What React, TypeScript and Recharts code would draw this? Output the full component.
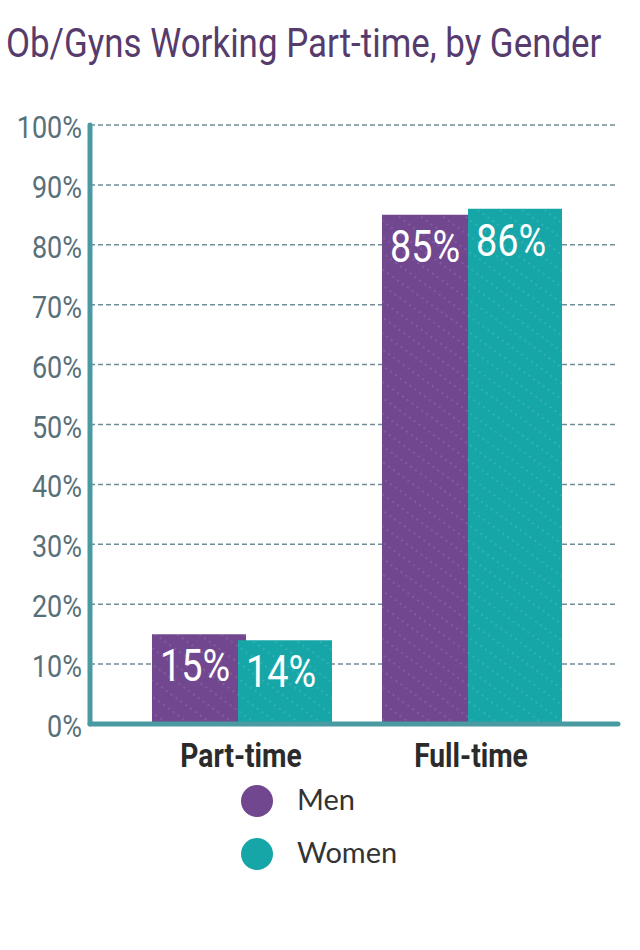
import React from "react"
import { BarChart, Bar, XAxis, YAxis, CartesianGrid, Legend, LabelList } from "recharts"

const categories = ["Part-time", "Full-time"]
const menValues = [15, 85]
const womenValues = [14, 86]
const yTicks = [0, 10, 20, 30, 40, 50, 60, 70, 80, 90, 100]

const COLORS = {
  men: "#71478f",
  women: "#17a6a8",
  title: "#563b6c",
  axis: "#4a9aa2",
  grid: "#6f8d96",
  tick: "#587079",
  category: "#2b2b2b",
}

const series = [
  { key: "men", name: "Men", color: COLORS.men, pattern: "hatchMen" },
  { key: "women", name: "Women", color: COLORS.women, pattern: "hatchWomen" },
]

const data = categories.map((c, i) => ({ name: c, men: menValues[i], women: womenValues[i] }))

const FONT = "Roboto, 'Noto Sans', sans-serif"

// condensed look: Roboto squeezed horizontally
function YTick(props: any) {
  const { x, y, payload } = props
  return (
    <g transform={`translate(${x},${y + 13})`}>
      <text transform="scale(0.87,1)" textAnchor="end" fontFamily={FONT} fontSize={31} fill={COLORS.tick}>
        {`${payload.value}%`}
      </text>
    </g>
  )
}

function XTick(props: any) {
  const { x, y, payload } = props
  return (
    <g transform={`translate(${x - 1},${y + 35})`}>
      <text transform="scale(0.83,1)" textAnchor="middle" fontFamily={FONT} fontWeight={700} fontSize={34} fill={COLORS.category}>
        {payload.value}
      </text>
    </g>
  )
}

function BarValue(props: any) {
  const { x, y, width, value } = props
  return (
    <g transform={`translate(${x + width / 2 - 4},${y + 47})`}>
      <text transform="scale(0.86,1)" textAnchor="middle" fontFamily={FONT} fontSize={44} fill="#ffffff">
        {`${value}%`}
      </text>
    </g>
  )
}

function LegendContent(props: any) {
  const { payload = [] } = props
  return (
    <div>
      {payload.map((entry: any) => {
        const s = series.find((d) => d.name === entry.value)
        return (
          <div key={entry.value} style={{ display: "flex", alignItems: "center", height: 53 }}>
            <span
              style={{ width: 32, height: 32, borderRadius: "50%", background: s ? s.color : entry.color, display: "inline-block" }}
            />
            <span style={{ marginLeft: 24, marginTop: -4, fontFamily: "Lato, sans-serif", fontSize: 29, color: "#333333" }}>
              {entry.value}
            </span>
          </div>
        )
      })}
    </div>
  )
}

export default function App() {
  return (
    <div style={{ position: "absolute", left: 0, top: 0, width: 640, height: 950, background: "#ffffff" }}>
      <svg width={0} height={0} style={{ position: "absolute" }}>
        <defs>
          {series.map((s) => (
            <pattern key={s.key} id={s.pattern} patternUnits="userSpaceOnUse" width={18} height={13} patternTransform="rotate(36)">
              <rect width={18} height={13} fill={s.color} />
              <line x1={0} y1={6} x2={18} y2={6} stroke="rgba(255,255,255,0.22)" strokeWidth={1} strokeDasharray="2 4" />
            </pattern>
          ))}
        </defs>
      </svg>

      <div style={{ position: "absolute", left: 0, top: 0 }}>
        <BarChart
          width={640}
          height={950}
          data={data}
          margin={{ top: 125, right: 22, bottom: 196, left: 0 }}
          barSize={94}
          barGap={-8}
        >
          <CartesianGrid vertical={false} stroke={COLORS.grid} strokeDasharray="5 3" strokeWidth={1.5} />
          <XAxis
            dataKey="name"
            height={30}
            padding={{ left: 37, right: 31 }}
            axisLine={{ stroke: COLORS.axis, strokeWidth: 5, strokeLinecap: "round" }}
            tickLine={false}
            tick={<XTick />}
            interval={0}
          />
          <YAxis
            width={90}
            domain={[0, 100]}
            ticks={yTicks}
            interval={0}
            axisLine={{ stroke: COLORS.axis, strokeWidth: 5, strokeLinecap: "round" }}
            tickLine={false}
            tick={<YTick />}
          />
          <Legend
            layout="vertical"
            align="center"
            verticalAlign="middle"
            wrapperStyle={{ top: 774, left: 241, width: 200 }}
            content={<LegendContent />}
          />
          {series.map((s) => (
            <Bar key={s.key} dataKey={s.key} name={s.name} fill={`url(#${s.pattern})`} isAnimationActive={false}>
              <LabelList dataKey={s.key} content={<BarValue />} />
            </Bar>
          ))}
        </BarChart>
      </div>

      <svg width={640} height={90} style={{ position: "absolute", left: 0, top: 0 }}>
        <g transform="translate(6,57)">
          <text transform="scale(0.873,1)" fontFamily={FONT} fontSize={40} fill={COLORS.title}>
            Ob/Gyns Working Part-time, by Gender
          </text>
        </g>
      </svg>
    </div>
  )
}
